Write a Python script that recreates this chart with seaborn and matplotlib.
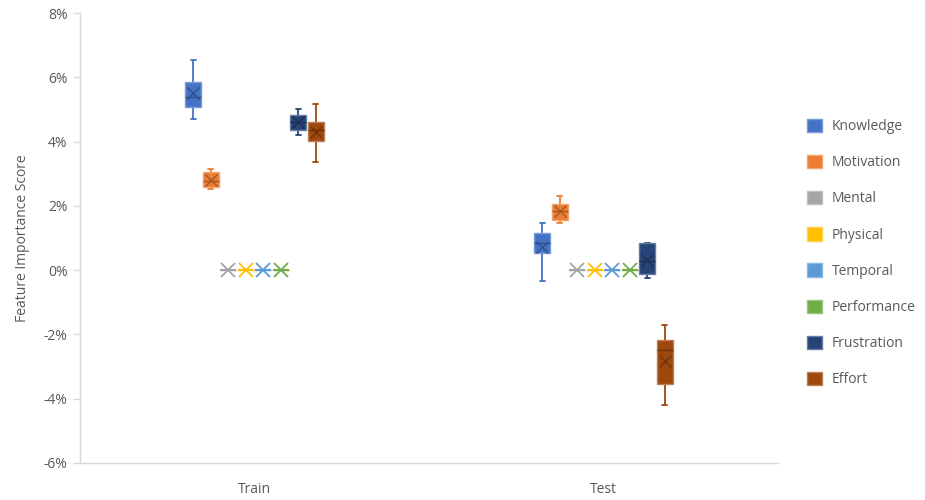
import numpy as np
import pandas as pd
import matplotlib
matplotlib.use("Agg")
import matplotlib.pyplot as plt
import matplotlib.colors as mcolors
from matplotlib.patches import Patch
from matplotlib.ticker import FuncFormatter
import seaborn as sns

splits = ["Train", "Test"]
features = ["Knowledge", "Motivation", "Mental", "Physical",
            "Temporal", "Performance", "Frustration", "Effort"]
palette = ["#4472C4", "#ED7D31", "#A5A5A5", "#FFC000",
           "#5B9BD5", "#70AD47", "#264478", "#9E480E"]

# Five-number summaries per feature (min, Q1, median, Q3, max), in percent
train_knowledge = [4.70, 5.08, 5.39, 5.86, 6.53]
train_motivation = [2.51, 2.59, 2.78, 3.06, 3.16]
train_mental = [0.0, 0.0, 0.0, 0.0, 0.0]
train_physical = [0.0, 0.0, 0.0, 0.0, 0.0]
train_temporal = [0.0, 0.0, 0.0, 0.0, 0.0]
train_performance = [0.0, 0.0, 0.0, 0.0, 0.0]
train_frustration = [4.22, 4.35, 4.61, 4.82, 5.00]
train_effort = [3.37, 4.02, 4.35, 4.61, 5.16]

test_knowledge = [-0.33, 0.52, 0.83, 1.16, 1.48]
test_motivation = [1.48, 1.56, 1.85, 2.05, 2.31]
test_mental = [0.0, 0.0, 0.0, 0.0, 0.0]
test_physical = [0.0, 0.0, 0.0, 0.0, 0.0]
test_temporal = [0.0, 0.0, 0.0, 0.0, 0.0]
test_performance = [0.0, 0.0, 0.0, 0.0, 0.0]
test_frustration = [-0.23, -0.12, 0.30, 0.83, 0.83]
test_effort = [-4.20, -3.55, -2.47, -2.18, -1.71]

train_values = [train_knowledge, train_motivation, train_mental, train_physical,
                train_temporal, train_performance, train_frustration, train_effort]
test_values = [test_knowledge, test_motivation, test_mental, test_physical,
               test_temporal, test_performance, test_frustration, test_effort]

rows = []
for split, series in zip(splits, [train_values, test_values]):
    for feat, vals in zip(features, series):
        for v in vals:
            rows.append({"split": split, "feature": feat, "score": v})
df = pd.DataFrame(rows)

sns.set_theme(style="white")
plt.rcParams["font.family"] = ["Open Sans", "DejaVu Sans"]

text_color = "#595959"
axis_color = "#D9D9D9"

fig = plt.figure(figsize=(9.25, 5.0), dpi=100)
ax = fig.add_axes([80 / 925, 37 / 500, 698 / 925, 450 / 500])

sns.boxplot(data=df, x="split", y="score", hue="feature",
            order=splits, hue_order=features, palette=palette,
            width=0.40, gap=0.08, whis=np.inf, saturation=1,
            linewidth=1, showmeans=True, legend=False, ax=ax)


def mix(c, other, t):
    a = np.array(mcolors.to_rgb(c))
    b = np.array(mcolors.to_rgb(other))
    return tuple(a * (1 - t) + b * t)


flat = ("#A5A5A5", "#FFC000", "#5B9BD5", "#70AD47")
cap_half = 0.0075
for cont, col in zip(ax.containers, palette):
    dark = mix(col, "black", 0.3)
    light = mix(col, "white", 0.3)
    for b in cont.boxes:
        b.set_facecolor(col)
        b.set_edgecolor(col if col in flat else light)
        b.set_linewidth(1.0)
        b.set_zorder(3)
    for m in cont.medians:
        m.set_color(col if col in flat else dark)
        m.set_linewidth(1.5 if col in flat else 1.0)
        m.set_zorder(4)
    for w in cont.whiskers:
        w.set_color(col)
        w.set_linewidth(1.3)
        w.set_zorder(2)
    for c in cont.caps:
        c.set_color(col)
        c.set_linewidth(1.3)
        c.set_zorder(2)
        xd = c.get_xdata()
        xc = float(np.mean(xd))
        c.set_xdata([xc - cap_half, xc + cap_half])
    for mn in cont.means:
        mn.set_marker("x")
        mn.set_zorder(5)
        if col in flat:
            mn.set_markersize(10)
            mn.set_markeredgewidth(1.3)
            mn.set_markeredgecolor(col)
        else:
            mn.set_markersize(9)
            mn.set_markeredgewidth(1.0)
            mn.set_markeredgecolor(dark)

ax.set_xlim(-0.5, 1.5)
ax.set_ylim(-6, 8)
ax.set_yticks(np.arange(-6, 9, 2))
ax.yaxis.set_major_formatter(FuncFormatter(lambda v, p: f"{v:.0f}%"))
ax.set_xlabel("")
ax.set_ylabel("Feature Importance Score", color=text_color, fontsize=10, labelpad=10)

for s in ["top", "right"]:
    ax.spines[s].set_visible(False)
for s in ["left", "bottom"]:
    ax.spines[s].set_color(axis_color)
    ax.spines[s].set_linewidth(1.0)

ax.tick_params(axis="y", colors=text_color, labelsize=10, length=5,
               width=1, color=axis_color, direction="out", pad=4, left=True)
ax.tick_params(axis="x", colors=text_color, labelsize=10, length=0, pad=14)

handles = [Patch(facecolor=c, edgecolor=mix(c, "white", 0.3), label=f)
           for f, c in zip(features, palette)]
leg = fig.legend(handles=handles, loc="upper left",
                 bbox_to_anchor=(794 / 925, 1 - 106 / 500),
                 frameon=False, fontsize=10, handlelength=1.1,
                 handleheight=1.1, labelspacing=1.5, handletextpad=0.7)
for t in leg.get_texts():
    t.set_color(text_color)

fig.savefig("out.png", dpi=100, facecolor="white")
